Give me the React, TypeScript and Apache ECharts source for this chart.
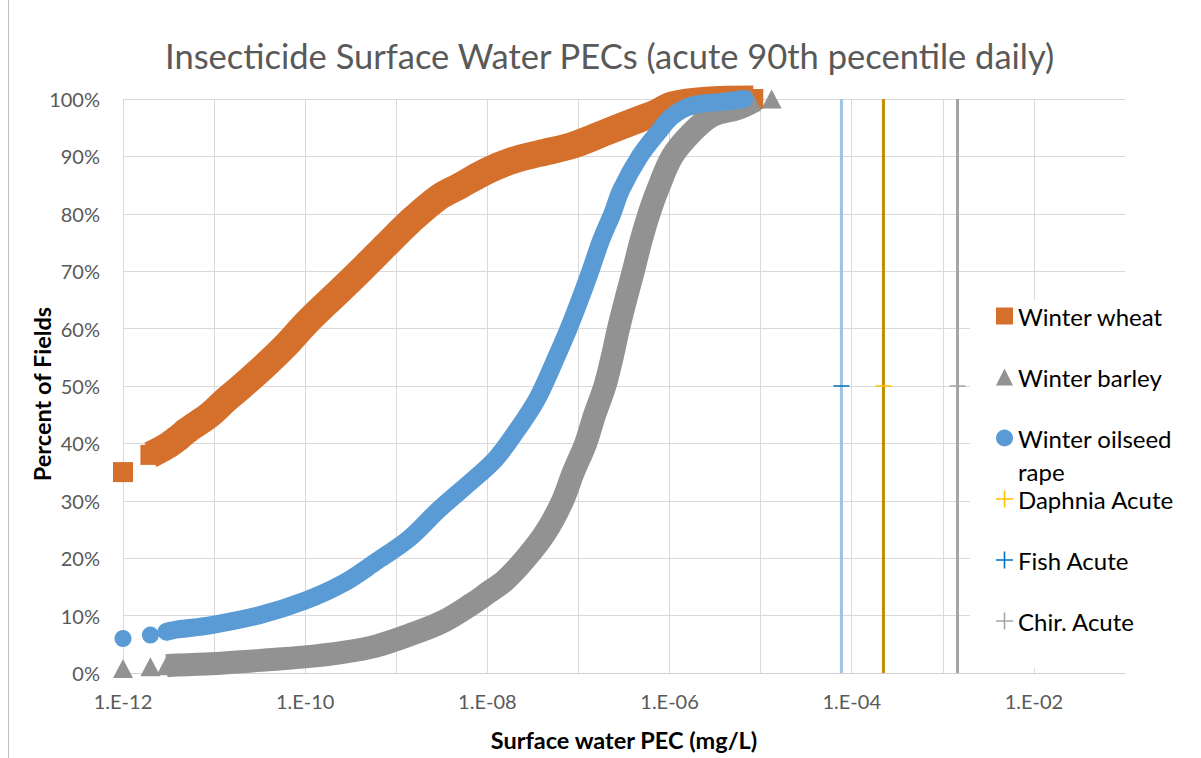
import React, { useEffect, useRef } from 'react';
import * as echarts from 'echarts';

// ---- Data (PEC in mg/L, cumulative percent of fields) ----
const wheatPEC = [1e-12, 2e-12, 3e-12, 4e-12, 5e-12, 9e-12, 1.35e-11, 2e-11, 3.7e-11, 5.9e-11, 1.12e-10, 2.4e-10, 4.3e-10, 7.8e-10, 1.38e-9, 2.95e-9, 4.9e-9, 1e-8, 1.9e-8, 3.7e-8, 8.5e-8, 2e-7, 4.7e-7, 7.1e-7, 1.07e-6, 2.5e-6, 8.3e-6];
const wheatPct = [35, 38, 39.5, 40.9, 42.2, 45.0, 47.6, 49.9, 53.7, 56.8, 61.6, 66.6, 70.5, 74.6, 78.5, 82.9, 84.8, 87.5, 89.3, 90.5, 91.9, 94.2, 96.5, 97.6, 99.0, 99.8, 100];

const barleyPEC = [1e-12, 2e-12, 3e-12, 4e-12, 9e-12, 3.2e-11, 1e-10, 2.6e-10, 6e-10, 1.38e-9, 3.2e-9, 6.9e-9, 1e-8, 1.58e-8, 2.65e-8, 4.4e-8, 6.7e-8, 8.7e-8, 1.2e-7, 1.5e-7, 1.95e-7, 2.35e-7, 2.75e-7, 3.3e-7, 4e-7, 4.9e-7, 5.95e-7, 7.4e-7, 1.07e-6, 1.74e-6, 2.95e-6, 5.75e-6, 8.9e-6, 1.32e-5];
const barleyPct = [0.8, 1.1, 1.25, 1.4, 1.6, 2.2, 2.8, 3.6, 4.7, 6.6, 8.9, 12.1, 13.9, 16.2, 20.0, 24.6, 30.0, 34.8, 40.0, 44.9, 50.0, 55.1, 60.0, 65.0, 70.0, 75.5, 80.0, 84.2, 90.0, 94.1, 97.1, 98.4, 99.8, 100];

const rapePEC = [1e-12, 2e-12, 3e-12, 4e-12, 9e-12, 3.2e-11, 1e-10, 2.6e-10, 6e-10, 1.38e-9, 2.95e-9, 6.9e-9, 1.23e-8, 2.05e-8, 3.2e-8, 4e-8, 5.75e-8, 7.8e-8, 1.035e-7, 1.35e-7, 1.78e-7, 2.35e-7, 2.95e-7, 4.7e-7, 7.4e-7, 1.07e-6, 1.78e-6, 3.8e-6, 6.6e-6];
const rapePct = [6.0, 6.6, 7.2, 7.6, 8.3, 10.1, 12.6, 15.6, 19.4, 23.4, 28.5, 33.6, 37.3, 42.0, 46.6, 49.5, 55.1, 60.0, 65.0, 70.0, 75.5, 80.0, 84.2, 90.0, 94.1, 97.0, 98.9, 99.5, 100];

// isolated (unconnected) markers: a gap is inserted before these indexes
const wheatGaps = [1];
const barleyGaps = [1, 2, 33];
const rapeGaps = [1, 2];

const thresholdNames = ['Daphnia Acute', 'Fish Acute', 'Chir. Acute'];
const thresholdPEC = [2.23e-4, 7.7e-5, 1.45e-3];
const thresholdSpan = [0, 50, 100];

const xMinExp = -12;
const xMaxExp = -1;

const FONT = 'Lato, "Noto Sans", sans-serif';
const ORANGE = '#D4702C';
const GRAY = '#929292';
const BLUE = '#5B9BD5';
const thresholdLine = ['#BF9000', '#9DC3E6', '#A5A5A5'];
const thresholdMark = ['#FFC000', '#0070C0', '#A5A5A5'];

const PLUS = 'path://M7.25,0H8.75V16H7.25Z M0,7.25H16V8.75H0Z';
const DASH = 'path://M0,0H16V2H0Z';

// markers are drawn for the first few (sparse, low-PEC) points and the last point;
// the dense middle of each band is drawn by the thick line
function toData(pec: number[], pct: number[], gaps: number[], marked: number) {
  const out: any[] = [];
  const last = pec.length - 1;
  pec.forEach((c, i) => {
    if (gaps.includes(i)) out.push(['-', '-']);
    const v = [Math.log10(c), pct[i]];
    out.push(i < marked || i === last ? { value: v } : { value: v, symbol: 'none' });
  });
  return out;
}

function expLabel(v: number) {
  const e = Math.round(v);
  if (e % 2 !== 0) return '';
  const s = e < 0 ? '-' : '+';
  return '1.E' + s + String(Math.abs(e)).padStart(2, '0');
}

export default function App() {
  const ref = useRef<HTMLDivElement>(null);

  useEffect(() => {
    if (!ref.current) return;
    const chart = echarts.init(ref.current, undefined, { renderer: 'svg' });

    const curve = (name: string, pec: number[], pct: number[], gaps: number[], marked: number, color: string, symbol: string, size: any, width: number, cap: string, z: number) => ({
      name,
      type: 'line',
      z,
      data: toData(pec, pct, gaps, marked),
      symbol,
      symbolSize: size,
      showSymbol: true,
      smooth: 0.35,
      clip: false,
      connectNulls: false,
      itemStyle: { color, borderWidth: 0 },
      lineStyle: { color, width, join: 'round', cap },
      emphasis: { disabled: true },
    });

    const thresholds = thresholdNames.map((name, k) => ({
      name,
      type: 'line',
      z: 5,
      data: thresholdSpan.map((p) => {
        const v = [Math.log10(thresholdPEC[k]), p];
        return p === 50 ? { value: v } : { value: v, symbol: 'none' };
      }),
      symbol: DASH,
      symbolSize: [16, 1.5],
      showSymbol: true,
      clip: false,
      itemStyle: { color: thresholdMark[k], borderWidth: 0 },
      lineStyle: { color: thresholdLine[k], width: 3 },
      emphasis: { disabled: true },
    }));

    const option: any = {
      animation: false,
      backgroundColor: '#ffffff',
      title: {
        text: 'Insecticide Surface Water PECs (acute 90th pecentile daily)',
        left: 165,
        top: 38,
        padding: 0,
        textAlign: 'left',
        textStyle: { fontFamily: FONT, fontSize: 34.5, fontWeight: 'normal', color: '#595959' },
      },
      grid: { left: 123, right: 76, top: 99, bottom: 85, containLabel: false, outerBoundsMode: 'none' },
      xAxis: {
        type: 'value',
        min: xMinExp,
        max: xMaxExp,
        interval: 1,
        name: 'Surface water PEC (mg/L)',
        nameLocation: 'middle',
        nameGap: 55,
        nameMoveOverlap: false,
        nameTextStyle: { fontFamily: FONT, fontSize: 23.5, fontWeight: 'bold', color: '#000' },
        axisLine: { show: true, lineStyle: { color: '#D0D0D0', width: 1 } },
        axisTick: { show: false },
        axisLabel: { formatter: expLabel, fontFamily: FONT, fontSize: 20, color: '#595959', margin: 18 },
        splitLine: { show: true, showMinLine: true, showMaxLine: false, lineStyle: { color: '#D9D9D9', width: 1 } },
      },
      yAxis: {
        type: 'value',
        min: 0,
        max: 100,
        interval: 10,
        name: 'Percent of Fields',
        nameLocation: 'middle',
        nameGap: 69,
        nameMoveOverlap: false,
        nameTextStyle: { fontFamily: FONT, fontSize: 23.5, fontWeight: 'bold', color: '#000', padding: [0, 16, 0, 0] },
        axisLine: { show: false },
        axisTick: { show: false },
        axisLabel: { formatter: '{value}%', fontFamily: FONT, fontSize: 20, color: '#595959', margin: 23 },
        splitLine: { show: true, lineStyle: { color: '#D9D9D9', width: 1 } },
      },
      legend: {
        orient: 'vertical',
        left: 970,
        top: 300,
        padding: [4, 10, 35, 26],
        backgroundColor: '#ffffff',
        itemWidth: 17,
        itemHeight: 17,
        itemGap: 37,
        selectedMode: false,
        textStyle: { fontFamily: FONT, fontSize: 24, color: '#000', lineHeight: 24 },
        formatter: (n: string) => (n === 'Winter oilseed rape' ? 'Winter oilseed' : n),
        data: [
          { name: 'Winter wheat', icon: 'rect' },
          { name: 'Winter barley', icon: 'triangle' },
          { name: 'Winter oilseed rape', icon: 'circle' },
          { name: 'Daphnia Acute', icon: PLUS },
          { name: 'Fish Acute', icon: PLUS },
          { name: 'Chir. Acute', icon: PLUS },
        ],
      },
      graphic: [
        { type: 'line', silent: true, shape: { x1: 8.5, y1: 0, x2: 8.5, y2: 758 }, style: { stroke: '#BFBFBF', lineWidth: 1 } },
        { type: 'text', silent: true, x: 1018, y: 471, z: 100, style: { text: 'rape', fontFamily: FONT, fontSize: 24, fill: '#000', verticalAlign: 'middle' } },
      ],
      series: [
        curve('Winter wheat', wheatPEC, wheatPct, wheatGaps, 5, ORANGE, 'rect', 20, 27, 'butt', 2),
        curve('Winter barley', barleyPEC, barleyPct, barleyGaps, 5, GRAY, 'triangle', [20, 19], 23, 'butt', 3),
        curve('Winter oilseed rape', rapePEC, rapePct, rapeGaps, 4, BLUE, 'circle', 17, 18, 'round', 4),
        ...thresholds,
      ],
    };

    chart.setOption(option);
    return () => chart.dispose();
  }, []);

  return <div ref={ref} style={{ position: 'fixed', left: 0, top: 0, width: 1201, height: 758 }} />;
}
